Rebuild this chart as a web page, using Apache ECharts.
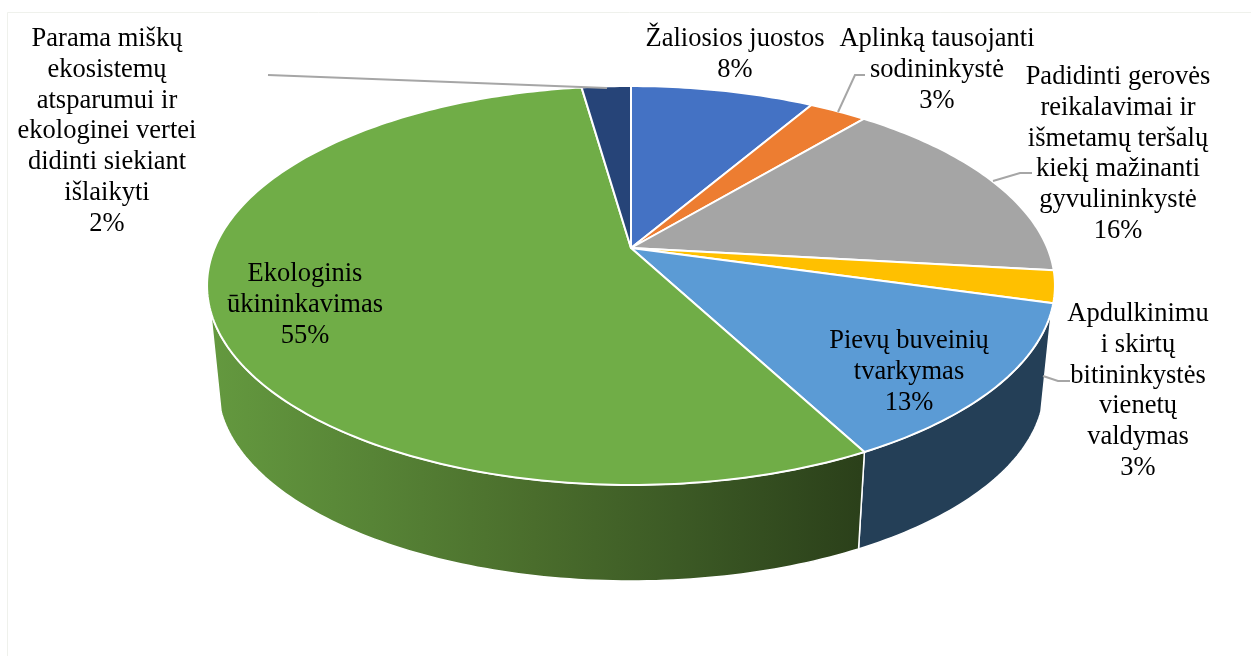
<!DOCTYPE html>
<html>
<head>
<meta charset="utf-8">
<style>
  html, body { margin: 0; padding: 0; background: #fff; }
  #chart { width: 1251px; height: 656px; }
</style>
<script src="https://cdn.jsdelivr.net/npm/echarts@6/dist/echarts.min.js"></script>
</head>
<body>
<div id="chart"></div>
<script>
// values, a little finer than the printed percentages
const categories = [
  "Žaliosios juostos",
  "Aplinką tausojanti\nsodininkystė",
  "Padidinti gerovės\nreikalavimai ir\nišmetamų teršalų\nkiekį mažinanti\ngyvulininkystė",
  "Apdulkinimu\ni skirtų\nbitininkystės\nvienetų\nvaldymas",
  "Pievų buveinių\ntvarkymas",
  "Ekologinis\nūkininkavimas",
  "Parama miškų\nekosistemų\natsparumui ir\nekologinei vertei\ndidinti siekiant\nišlaikyti"
];
const values = [8.4, 2.65, 15.75, 2.6, 12.86, 55.49, 2.25];
const colors = ["#4472c4", "#ed7d31", "#a5a5a5", "#ffc000", "#5b9bd5", "#70ad47", "#264478"];

// layout of the tilted pie (perspective of a circle)
const apex = [631, 248];
const radiusX = 416.4;
const radiusY = 192.4;
const tilt = 0.188;
const depth = 102;
const bottomScale = 0.975;
// the rim only shows between the two points where top and bottom outlines meet
const visibleFrom = 108;
const visibleTo = 252;

// label centre x / top y, then the leader line if the label has one
const labelAt = [
  { x: 735, y: 24 },
  { x: 937, y: 24, line: [[865, 75], [855, 75], [838, 112]] },
  { x: 1118, y: 62, line: [[1032, 173], [1020, 173], [993, 181]] },
  { x: 1138, y: 299, line: [[1070, 381], [1058, 381], [1043, 376]] },
  { x: 909, y: 326 },
  { x: 305, y: 259 },
  { x: 107, y: 24, line: [[268, 75], [607, 88]] }
];

const total = values.reduce((a, b) => a + b, 0);

function project(deg, scale, cy) {
  let t = (deg * Math.PI) / 180,
    sx = Math.sin(t),
    sy = -Math.cos(t),
    w = 1 - tilt * sy;
  return [
    apex[0] + (scale * radiusX * sx) / w,
    cy + (scale * radiusY * sy) / w
  ];
}

function arcPoints(from, to, scale, cy) {
  let pts = [],
    steps = Math.max(2, Math.ceil(to - from));
  for (let i = 0; i <= steps; i++) {
    pts.push(project(from + ((to - from) * i) / steps, scale, cy));
  }
  return pts;
}

function sliceRange(index) {
  let before = 0;
  for (let i = 0; i < index; i++) before += values[i];
  return [(before / total) * 360, ((before + values[index]) / total) * 360];
}

function sideFill(index) {
  if (colors[index] === "#70ad47") {
    return new echarts.graphic.LinearGradient(209, 0, 860, 0, [
      { offset: 0, color: "#64993f" },
      { offset: 0.25, color: "#578436" },
      { offset: 0.5, color: "#4a6d2c" },
      { offset: 0.72, color: "#3c5a25" },
      { offset: 1, color: "#2b401a" }
    ], true);
  }
  return "#243f57";
}

function renderSide(params, api) {
  let i = params.dataIndex,
    r = sliceRange(i),
    from = Math.max(r[0], visibleFrom),
    to = Math.min(r[1], visibleTo);
  if (to <= from) return null;
  let top = arcPoints(from, to, 1, apex[1]),
    bottom = arcPoints(from, to, bottomScale, apex[1] + depth).reverse();
  return {
    type: "polygon",
    shape: { points: top.concat(bottom) },
    style: { fill: sideFill(i), stroke: "#fff", lineWidth: 1.5, lineJoin: "round" }
  };
}

function renderTop(params, api) {
  let i = params.dataIndex,
    r = sliceRange(i),
    pts = arcPoints(r[0], r[1], 1, apex[1]);
  pts.unshift(apex);
  return {
    type: "polygon",
    shape: { points: pts },
    style: { fill: colors[i], stroke: "#fff", lineWidth: 2, lineJoin: "round" }
  };
}

function renderLabel(params, api) {
  let i = params.dataIndex,
    at = labelAt[i],
    children = [];
  if (at.line) {
    children.push({
      type: "polyline",
      shape: { points: at.line },
      style: { fill: null, stroke: "#a6a6a6", lineWidth: 2 }
    });
  }
  children.push({
    type: "text",
    x: at.x,
    y: at.y,
    style: {
      text: categories[i] + "\n" + Math.round(api.value(0)) + "%",
      font: '26.5px "Liberation Serif"',
      lineHeight: 30.7,
      align: "center",
      verticalAlign: "top",
      fill: "#000"
    }
  });
  return { type: "group", children: children };
}

let myChart = echarts.init(document.getElementById("chart"), null, { renderer: "canvas" }),
  data = values.map((v, i) => ({ name: categories[i], value: v })),
  option;

option = {
  animation: false,
  backgroundColor: "#fff",
  graphic: [
    {
      type: "rect",
      shape: { x: 7.5, y: 12.5, width: 1400, height: 800 },
      style: { fill: null, stroke: "#eff1ec", lineWidth: 1 },
      z: 0
    }
  ],
  series: [
    { type: "custom", coordinateSystem: "none", renderItem: renderSide, data: data, z: 1, silent: true },
    { type: "custom", coordinateSystem: "none", renderItem: renderTop, data: data, z: 2, silent: true },
    { type: "custom", coordinateSystem: "none", renderItem: renderLabel, data: data, z: 3, silent: true }
  ]
};

myChart.setOption(option);
window.addEventListener("resize", function () {
  myChart.resize();
});
</script>
</body>
</html>
